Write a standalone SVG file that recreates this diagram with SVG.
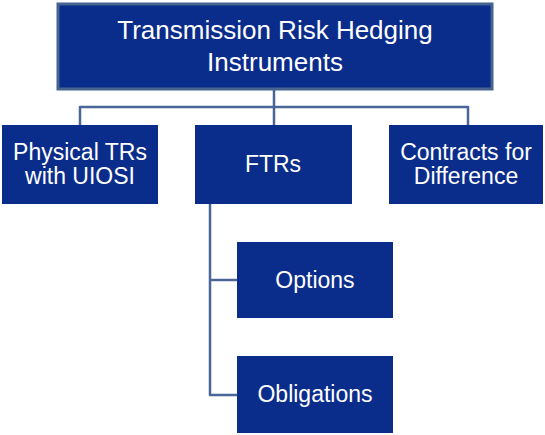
<svg xmlns="http://www.w3.org/2000/svg" width="545" height="435" viewBox="0 0 545 435">
<style>
.box{fill:#0a2d8c;}
.top{fill:#0a2d8c;stroke:#47638f;stroke-width:3;}
.t{fill:#ffffff;font-family:"Liberation Sans",Arial,sans-serif;font-size:23px;text-anchor:middle;}
.tt{fill:#ffffff;font-family:"Liberation Sans",Arial,sans-serif;font-size:26px;text-anchor:middle;}
.c{fill:none;stroke:#4a6597;stroke-width:2.5;stroke-linejoin:round;}
</style>
<rect width="545" height="435" fill="#ffffff"/>
<g id="connectors">
<path class="c" d="M274,90 V125"/>
<path class="c" d="M80,125 V107 H468 V125"/>
<path class="c" d="M210,204 V395 H237"/>
<path class="c" d="M210,280 H237"/>
</g>
<g id="root">
<rect class="top" x="58" y="4" width="434" height="85"/>
<text class="tt" x="275" y="39">Transmission Risk Hedging</text>
<text class="tt" x="275" y="71">Instruments</text>
</g>
<g id="physical">
<rect class="box" x="2" y="125" width="156" height="79"/>
<text class="t" x="80" y="160">Physical TRs</text>
<text class="t" x="80" y="184">with UIOSI</text>
</g>
<g id="ftrs">
<rect class="box" x="195" y="125" width="157" height="79"/>
<text class="t" x="273" y="172">FTRs</text>
</g>
<g id="cfd">
<rect class="box" x="389" y="125" width="154" height="79"/>
<text class="t" x="466" y="160">Contracts for</text>
<text class="t" x="466" y="184">Difference</text>
</g>
<g id="options">
<rect class="box" x="237" y="242" width="156" height="76"/>
<text class="t" x="315" y="288">Options</text>
</g>
<g id="obligations">
<rect class="box" x="237" y="356" width="156" height="77"/>
<text class="t" x="315" y="402">Obligations</text>
</g>
</svg>
